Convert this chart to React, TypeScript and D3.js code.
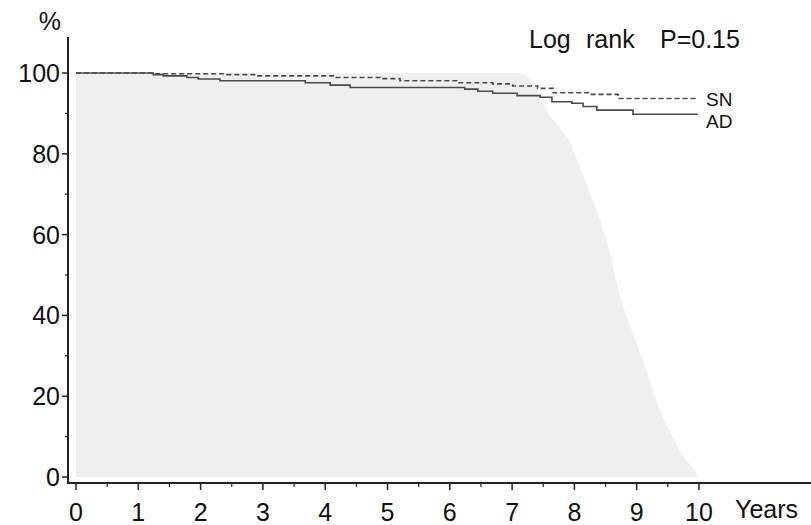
import React from "react";
import * as d3 from "d3";

// ---- data ----
const xTicks = [0, 1, 2, 3, 4, 5, 6, 7, 8, 9, 10];
const xMinorTicks = [0.5, 1.5, 2.5, 3.5, 4.5, 5.5, 6.5, 7.5, 8.5, 9.5];
const yTicks = [0, 20, 40, 60, 80, 100];
const yMinorTicks = [10, 30, 50, 70, 90];
const seriesLabels = ["SN", "AD"];

// SN (dashed) Kaplan-Meier steps
const snTime = [0, 1.24, 2.42, 2.9, 4.13, 4.88, 5.2, 6.11, 6.69, 7.01, 7.41, 7.66, 8.25, 8.7, 9.98];
const snValue = [100, 99.8, 99.6, 99.3, 98.9, 98.6, 98.1, 97.6, 97.3, 96.8, 96.2, 95.1, 94.7, 93.7, 93.7];

// AD (solid) Kaplan-Meier steps
const adTime = [0, 1.24, 1.4, 1.78, 1.96, 2.31, 3.68, 4.08, 4.4, 6.24, 6.45, 6.69, 7.08, 7.45, 7.64, 7.96, 8.14, 8.36, 8.94, 9.98];
const adValue = [100, 99.6, 99.3, 98.9, 98.5, 98.1, 97.6, 97.0, 96.4, 96.0, 95.5, 95.0, 94.4, 94.0, 92.9, 92.5, 91.7, 90.8, 89.8, 89.8];

// grey background area (follow-up coverage)
const areaTime = [0, 7.1, 7.22, 7.33, 7.45, 7.6, 7.77, 7.93, 8.09, 8.25, 8.41, 8.57, 8.73, 8.94, 9.17, 9.37, 9.58, 9.74, 9.86, 10];
const areaValue = [100, 100, 99.4, 97.6, 93.8, 89.5, 86.4, 82.8, 76.5, 70.3, 63.6, 55.4, 44.8, 35.6, 25.7, 16.6, 9.9, 5.2, 3.0, 0];

const FONT = "'Liberation Sans', Arial, Helvetica, sans-serif";

export default function App() {
  const W = 811;
  const H = 525;
  const x = d3.scaleLinear().domain([0, 10]).range([76, 699]);
  const y = d3.scaleLinear().domain([0, 100]).range([477, 73]);
  const axisX = 68;
  const axisY = 483;

  const toPts = (t: number[], v: number[]) => t.map((d, i) => [d, v[i]] as [number, number]);

  const stepLine = d3
    .line<[number, number]>()
    .x((d) => x(d[0]))
    .y((d) => y(d[1]))
    .curve(d3.curveStepAfter);

  const area = d3
    .area<[number, number]>()
    .x((d) => x(d[0]))
    .y0(y(0))
    .y1((d) => y(d[1]))
    .curve(d3.curveMonotoneX);

  const snPath = stepLine(toPts(snTime, snValue)) || "";
  const adPath = stepLine(toPts(adTime, adValue)) || "";
  const areaPath = area(toPts(areaTime, areaValue)) || "";

  return (
    <svg
      width={W}
      height={H}
      viewBox={`0 0 ${W} ${H}`}
      style={{ position: "absolute", left: 0, top: 0, background: "#fff" }}
      fontFamily={FONT}
    >
      <rect x={0} y={0} width={W} height={H} fill="#fff" />
      <path d={areaPath} fill="#efefef" />

      {/* curves */}
      <path d={snPath} fill="none" stroke="#4a4a4a" strokeWidth={1.6} strokeDasharray="5,3" />
      <path d={adPath} fill="none" stroke="#4a4a4a" strokeWidth={1.6} />

      {/* axes */}
      <line x1={axisX} y1={37} x2={axisX} y2={axisY} stroke="#222" strokeWidth={2} />
      <line x1={axisX - 1} y1={axisY} x2={W} y2={axisY} stroke="#222" strokeWidth={2} />

      {yTicks.map((t) => (
        <g key={"y" + t}>
          <line x1={axisX - 6} x2={axisX} y1={y(t)} y2={y(t)} stroke="#222" strokeWidth={1.5} />
          <text x={60} y={y(t)} dy="0.36em" textAnchor="end" fontSize={25} fill="#111">
            {t}
          </text>
        </g>
      ))}
      {yMinorTicks.map((t) => (
        <line key={"ym" + t} x1={axisX - 3} x2={axisX} y1={y(t)} y2={y(t)} stroke="#222" strokeWidth={1.2} />
      ))}

      {xTicks.map((t) => (
        <g key={"x" + t}>
          <line x1={x(t)} x2={x(t)} y1={axisY} y2={axisY + 7} stroke="#222" strokeWidth={1.5} />
          <text x={x(t)} y={521} textAnchor="middle" fontSize={25} fill="#111">
            {t}
          </text>
        </g>
      ))}
      {xMinorTicks.map((t) => (
        <line key={"xm" + t} x1={x(t)} x2={x(t)} y1={axisY} y2={axisY + 4} stroke="#222" strokeWidth={1.2} />
      ))}

      {/* labels */}
      <text x={61} y={30} textAnchor="end" fontSize={25} fill="#111">%</text>
      <text x={735} y={518} fontSize={25} fill="#111">Years</text>
      <text x={529} y={48} fontSize={25} fill="#111">Log</text>
      <text x={586} y={48} fontSize={25} fill="#111">rank</text>
      <text x={660} y={48} fontSize={25} fill="#111">P=0.15</text>
      <text x={706} y={106} fontSize={19} fill="#111">{seriesLabels[0]}</text>
      <text x={706} y={128} fontSize={19} fill="#111">{seriesLabels[1]}</text>
    </svg>
  );
}
